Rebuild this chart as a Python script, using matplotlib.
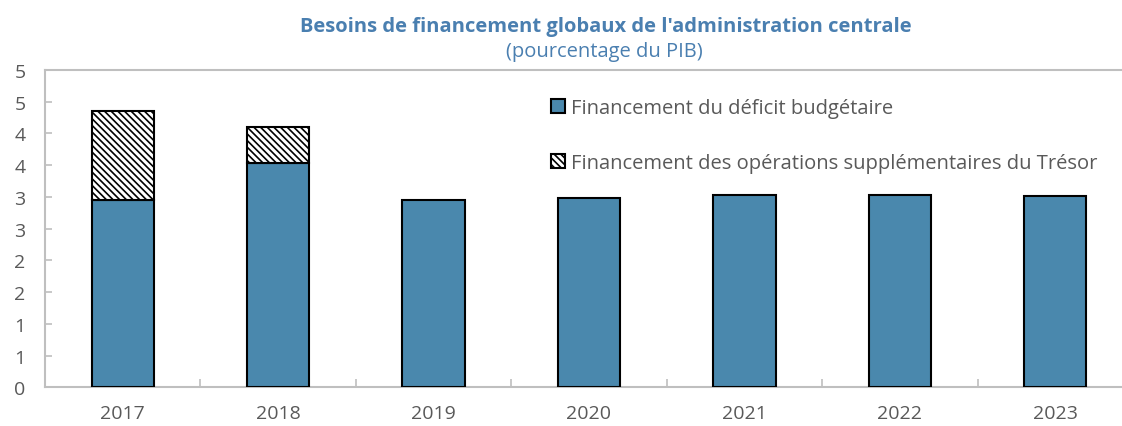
import numpy as np
import matplotlib
matplotlib.use("Agg")
import matplotlib.pyplot as plt
from matplotlib.ticker import FixedLocator

# données (pourcentage du PIB)
years = ["2017", "2018", "2019", "2020", "2021", "2022", "2023"]
deficit = [2.95, 3.54, 2.95, 2.99, 3.03, 3.03, 3.01]
tresor = [1.41, 0.56, 0.0, 0.0, 0.0, 0.0, 0.0]
ytick_vals = [0, 0.5, 1, 1.5, 2, 2.5, 3, 3.5, 4, 4.5, 5]
ytick_labels = ["0", "1", "1", "2", "2", "3", "3", "4", "4", "5", "5"]

blue = "#4a88ad"
title_col = "#4a7fb0"
text_col = "#595959"
grid_col = "#bfbfbf"

plt.rcParams['font.family'] = ['Open Sans', 'DejaVu Sans']
plt.rcParams['hatch.linewidth'] = 1.2

fig = plt.figure(figsize=(11.22, 4.27), dpi=100)
ax = fig.add_axes([45 / 1122, 1 - 388.3 / 427, 1088 / 1122, (388.3 - 71) / 427])

x = np.arange(len(years))
b1 = ax.bar(x, deficit, width=0.4, color=blue, edgecolor="black", linewidth=1.5,
            label="Financement du déficit budgétaire", zorder=3)
tres = np.array(tresor)
b2 = ax.bar(x[tres > 0], tres[tres > 0], bottom=np.array(deficit)[tres > 0], width=0.4,
            color="white", edgecolor="black", hatch="\\\\\\\\\\", linewidth=1.5,
            label="Financement des opérations supplémentaires du Trésor", zorder=3)

ax.set_xlim(-0.5, len(years) - 0.5)
ax.set_ylim(0, 5)

ax.set_yticks(ytick_vals)
ax.set_yticklabels(ytick_labels)
ax.set_xticks(x)
ax.set_xticklabels(years)
ax.xaxis.set_minor_locator(FixedLocator(np.arange(0.5, len(years) - 0.5, 1)))

ax.tick_params(axis="y", direction="in", length=5, color=grid_col, width=1.2,
               labelsize=14, labelcolor=text_col, pad=14)
ax.tick_params(axis="x", which="major", length=0, labelsize=14, labelcolor=text_col, pad=12)
ax.tick_params(axis="x", which="minor", direction="in", length=6, color=grid_col, width=1.2)

for s in ["left", "bottom", "top"]:
    ax.spines[s].set_color(grid_col)
    ax.spines[s].set_linewidth(1.5)
ax.spines["right"].set_visible(False)

fig.text(606 / 1122, 1 - 27 / 427, "Besoins de financement globaux de l'administration centrale",
         ha="center", va="center", fontsize=14.5, fontweight="bold", color=title_col)
fig.text(604 / 1122, 1 - 52 / 427, "(pourcentage du PIB)",
         ha="center", va="center", fontsize=14.5, color=title_col)

leg = ax.legend(handles=[b1, b2], loc="upper left", bbox_to_anchor=(551 / 1122, 1 - 99 / 427),
                bbox_transform=fig.transFigure, frameon=False, fontsize=14.5,
                labelcolor=text_col, handlelength=0.7, handleheight=0.7,
                handletextpad=0.3, labelspacing=1.75, borderaxespad=0, borderpad=0)

fig.savefig("out.png", dpi=100)
